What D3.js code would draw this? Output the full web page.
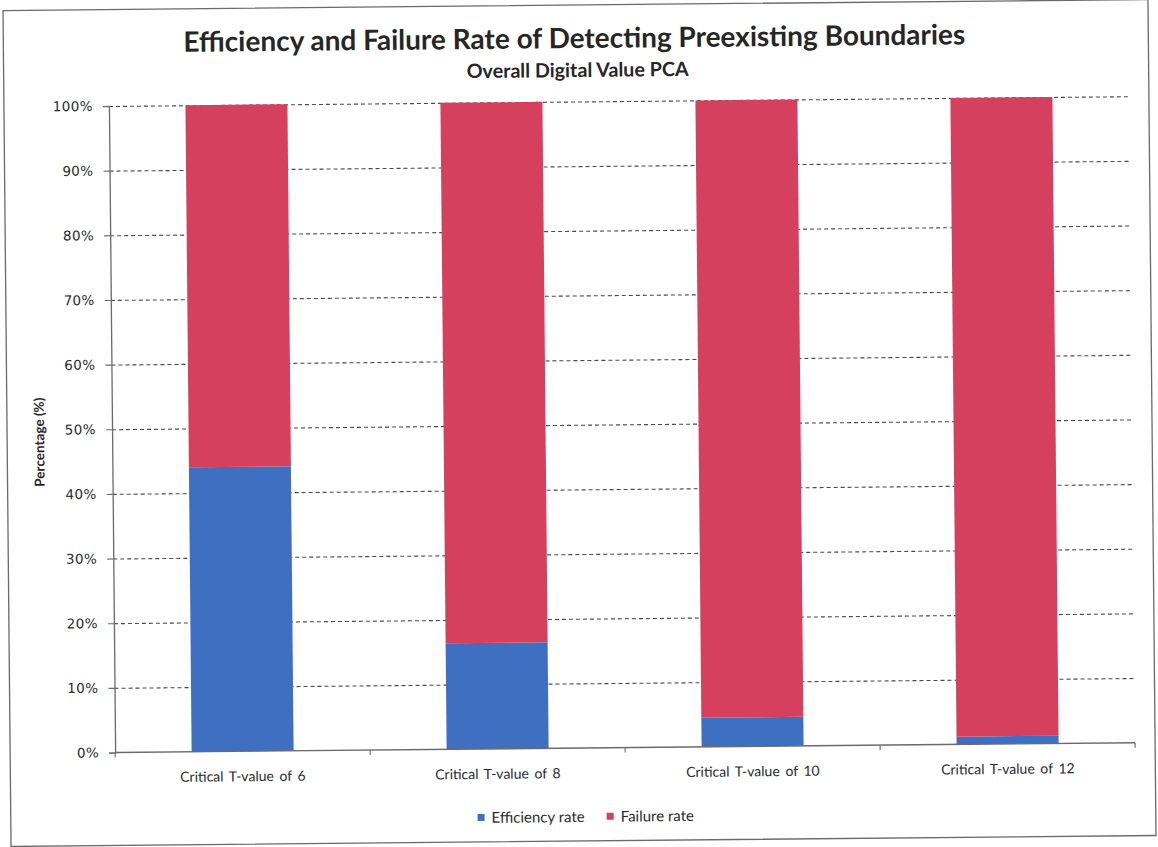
<!DOCTYPE html>
<html>
<head>
<meta charset="utf-8">
<script src="https://cdn.jsdelivr.net/npm/d3@7/dist/d3.min.js"></script>
<style>
  html, body { margin: 0; padding: 0; background: #ffffff; }
  svg { display: block; }
</style>
</head>
<body>
<svg id="chart" width="1158" height="847"></svg>
<script>
// Chart data
const categories = ["Critical T-value of 6", "Critical T-value of 8", "Critical T-value of 10", "Critical T-value of 12"];
const efficiencyRate = [44.0, 16.4, 4.5, 1.2];
const failureRate = [56.0, 83.6, 95.5, 98.8];
const seriesNames = ["Efficiency rate", "Failure rate"];
const seriesColors = ["#3f6fc1", "#d5405e"];
const yTickValues = [0, 10, 20, 30, 40, 50, 60, 70, 80, 90, 100];
const titleText = "Efficiency and Failure Rate of Detecting Preexisting Boundaries";
const subtitleText = "Overall Digital Value PCA";
const yAxisTitle = "Percentage (%)";

const W = 1158, H = 847;
const plot = { left: 112, right: 1132, top: 101.5, bottom: 748 };
const font = "Lato, 'Open Sans', sans-serif";

const svg = d3.select("#chart");
svg.append("rect").attr("width", W).attr("height", H).attr("fill", "#ffffff");

// whole sheet sits at a slight tilt
const root = svg.append("g").attr("transform", "rotate(-0.55, 580, 423)");

// chart frame
root.append("rect")
  .attr("x", 7).attr("y", 5).attr("width", 1145).attr("height", 836)
  .attr("fill", "#ffffff").attr("stroke", "#6a6a6a").attr("stroke-width", 1.3);

const x = d3.scaleBand()
  .domain(categories)
  .range([plot.left, plot.right])
  .paddingInner(0.6)
  .paddingOuter(0.3);

const y = d3.scaleLinear().domain([0, 100]).range([plot.bottom, plot.top]);

// dashed horizontal gridlines
const grid = root.append("g")
  .attr("transform", `translate(${plot.left},0)`)
  .call(d3.axisLeft(y).tickValues(yTickValues.filter(v => v > 0))
    .tickSize(-(plot.right - plot.left)).tickFormat(""));
grid.select(".domain").remove();
grid.selectAll(".tick line")
  .attr("stroke", "#4a4a4a").attr("stroke-width", 1.1).attr("stroke-dasharray", "4,3");

// stacked bars
const rows = categories.map((c, i) => ({
  category: c,
  [seriesNames[0]]: efficiencyRate[i],
  [seriesNames[1]]: failureRate[i]
}));
const stacked = d3.stack().keys(seriesNames)(rows);

root.append("g").selectAll("g")
  .data(stacked)
  .join("g")
  .attr("fill", (d, i) => seriesColors[i])
  .selectAll("rect")
  .data(d => d)
  .join("rect")
  .attr("x", d => x(d.data.category))
  .attr("width", x.bandwidth())
  .attr("y", d => y(d[1]))
  .attr("height", d => y(d[0]) - y(d[1]));

// y axis with labels
const yAxis = root.append("g")
  .attr("transform", `translate(${plot.left},0)`)
  .call(d3.axisLeft(y).tickValues(yTickValues).tickSize(6).tickPadding(10)
    .tickFormat(d => d + "%"));
yAxis.select(".domain").attr("stroke", "#6a6a6a").attr("stroke-width", 1.3);
yAxis.selectAll(".tick line").attr("stroke", "#6a6a6a").attr("stroke-width", 1.1);
yAxis.selectAll(".tick text")
  .style("font-family", "'DejaVu Sans', sans-serif")
  .style("font-size", "13.5px")
  .style("letter-spacing", "0.4px")
  .attr("fill", "#2a2a2a");

// x axis: baseline and category divider ticks
const xAxis = root.append("g").attr("transform", `translate(0,${plot.bottom})`);
xAxis.append("line")
  .attr("x1", plot.left).attr("x2", plot.right)
  .attr("stroke", "#6a6a6a").attr("stroke-width", 1.4);
const step = x.step();
xAxis.selectAll("line.div")
  .data(d3.range(categories.length + 1))
  .join("line")
  .attr("class", "div")
  .attr("x1", i => plot.left + i * step).attr("x2", i => plot.left + i * step)
  .attr("y1", 0).attr("y2", 5)
  .attr("stroke", "#6a6a6a").attr("stroke-width", 1.1);
xAxis.selectAll("text")
  .data(categories)
  .join("text")
  .attr("x", d => x(d) + x.bandwidth() / 2)
  .attr("y", 30)
  .attr("text-anchor", "middle")
  .style("font-family", font)
  .style("font-size", "14px")
  .style("word-spacing", "2px")
  .attr("fill", "#2a2a2a")
  .text(d => d);

// titles, sized to span their measured widths
function fitWidth(sel, target) {
  const w = sel.node().getComputedTextLength();
  const fs = parseFloat(sel.style("font-size"));
  sel.style("font-size", (fs * target / w) + "px");
}
const title = root.append("text")
  .attr("x", 578).attr("y", 48)
  .attr("text-anchor", "middle")
  .style("font-family", font).style("font-weight", "bold")
  .style("font-size", "25px").attr("fill", "#262626")
  .text(titleText);
fitWidth(title, 782);

const subtitle = root.append("text")
  .attr("x", 581).attr("y", 77)
  .attr("text-anchor", "middle")
  .style("font-family", font).style("font-weight", "bold")
  .style("font-size", "15px").attr("fill", "#262626")
  .text(subtitleText);
fitWidth(subtitle, 222);

root.append("text")
  .attr("transform", "translate(44,437) rotate(-90)")
  .attr("text-anchor", "middle")
  .style("font-family", font).style("font-weight", "bold")
  .style("font-size", "13.5px").attr("fill", "#262626")
  .text(yAxisTitle);

// legend
const legend = root.append("g").attr("transform", "translate(0,817)");
const legendItems = legend.selectAll("g")
  .data(seriesNames)
  .join("g");
legendItems.append("rect")
  .attr("y", -4).attr("width", 7).attr("height", 7)
  .attr("fill", (d, i) => seriesColors[i]);
legendItems.append("text")
  .attr("x", 14).attr("y", 5)
  .style("font-family", font).style("font-size", "15px").attr("fill", "#2a2a2a")
  .text(d => d);
// lay legend entries side by side, centred on the chart
let cursor = 0;
const offsets = [];
legendItems.each(function () {
  offsets.push(cursor);
  cursor += this.getBBox().width + 22;
});
const total = cursor - 22;
legendItems.attr("transform", (d, i) => `translate(${582 - total / 2 + offsets[i]},0)`);
</script>
</body>
</html>
